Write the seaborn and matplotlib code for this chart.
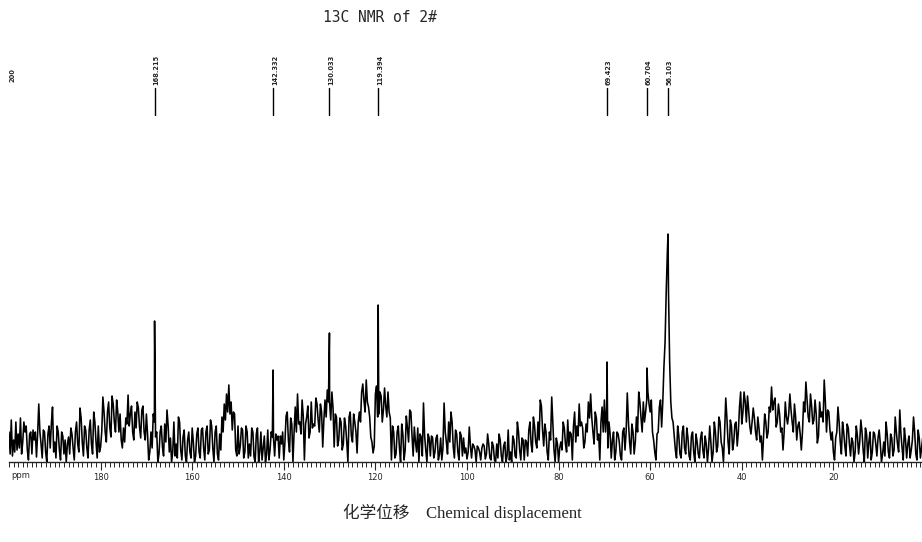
import numpy as np
import pandas as pd
import matplotlib
matplotlib.use("Agg")
import matplotlib.pyplot as plt
from matplotlib.ticker import MultipleLocator, FixedLocator
import seaborn as sns

# baseline trace, 0.5 ppm steps from 200 ppm downwards
# (values are heights above the axis, in plot pixels)
base_200_190 = [30, 42, 22, 40, 28, 44, 20, 30, 12, 28, 8, 22, 5, 58, 18, 32, 10, 28, 14, 55]
base_190_180 = [20, 36, 12, 30, 8, 0, 25, 34, 14, 30, 18, 54, 20, 36, 14, 32, 18, 50, 20, 36]
base_180_170 = [15, 65, 30, 50, 35, 66, 40, 62, 30, 22, 34, 44, 67, 48, 30, 50, 60, 35, 52, 30]
base_170_160 = [48, 2, 30, 48, 25, 0, 30, 15, 38, 52, 10, 0, 40, 18, 45, 12, 25, 6, 22, 10]
base_160_150 = [34, 0, 28, 10, 32, 14, 30, 8, 42, 14, 30, 8, 28, 45, 58, 68, 77, 60, 50, 12]
base_150_140 = [36, 16, 32, 10, 30, 18, 34, 5, 28, 0, 30, 14, 0, 32, 12, 25, 6, 22, 4, 18]
base_140_130 = [2, 46, 22, 44, 0, 55, 68, 40, 62, 2, 45, 24, 60, 38, 64, 42, 58, 15, 62, 72]
base_130_120 = [60, 70, 15, 45, 22, 40, 18, 36, 0, 50, 20, 40, 9, 50, 70, 62, 82, 55, 25, 9]
base_120_110 = [68, 45, 70, 40, 74, 45, 50, 2, 30, 8, 36, 0, 28, 12, 34, 52, 26, 35, 10, 0]
base_110_100 = [25, 59, 12, 28, 6, 24, 10, 27, 8, 2, 59, 20, 40, 50, 15, 32, 10, 30, 6, 9]
base_100_90 = [3, 35, 4, 16, 0, 14, 2, 18, 3, 28, 4, 20, 2, 18, 28, 6, 16, 0, 32, 10]
base_90_80 = [26, 6, 40, 12, 24, 2, 20, 32, 18, 45, 20, 40, 62, 32, 38, 10, 30, 65, 12, 24]
base_80_70 = [0, 20, 40, 18, 42, 30, 2, 50, 36, 58, 40, 14, 38, 60, 68, 30, 50, 22, 2, 55]
base_70_60 = [62, 55, 40, 4, 30, 10, 28, 6, 30, 12, 69, 20, 38, 8, 45, 70, 44, 60, 50, 70]
base_60_50 = [50, 30, 10, 28, 55, 35, 95, 170, 170, 60, 40, 12, 36, 8, 30, 14, 34, 6, 26, 10]
base_50_40 = [28, 8, 24, 12, 26, 0, 36, 0, 40, 10, 45, 20, 0, 64, 20, 42, 12, 38, 16, 55]
base_40_30 = [38, 70, 40, 52, 28, 54, 30, 45, 20, 2, 48, 24, 55, 75, 60, 35, 58, 30, 12, 60]
base_30_20 = [38, 68, 40, 58, 22, 40, 12, 60, 80, 45, 68, 38, 62, 19, 60, 50, 82, 30, 50, 22]
base_20_10 = [10, 24, 55, 20, 40, 16, 38, 18, 24, 0, 36, 8, 42, 12, 34, 4, 30, 10, 28, 6]
base_10_0 = [32, 0, 20, 40, 10, 28, 6, 45, 18, 52, 14, 34, 4, 26, 12, 45, 8, 32, 4, 24]

# in-between readings, 0.25 ppm below each of the values above
mid_200_190 = [8, 6, 10, 12, 14, 8, 40, 36, 2, 30, 32, 30, 28, 30, 4, 30, 0, 36, 38, 10]
mid_190_180 = [4, 30, 2, 26, 22, 18, 8, 28, 2, 40, 10, 44, 6, 32, 4, 42, 8, 40, 4, 10]
mid_180_170 = [30, 50, 20, 60, 25, 58, 30, 50, 48, 14, 20, 38, 36, 56, 22, 34, 54, 24, 56, 22]
mid_170_160 = [28, 10, 14, 40, 30, 8, 36, 6, 20, 36, 24, 10, 6, 4, 40, 2, 32, 0, 30, 4]
mid_160_150 = [20, 6, 34, 4, 34, 2, 36, 12, 36, 0, 36, 2, 12, 30, 42, 50, 48, 32, 48, 6]
mid_150_140 = [8, 34, 4, 36, 4, 6, 30, 0, 34, 10, 2, 26, 8, 2, 30, 24, 28, 26, 26, 30]
mid_140_130 = [20, 50, 10, 38, 30, 30, 38, 28, 46, 38, 56, 30, 34, 36, 58, 30, 50, 42, 45, 60]
mid_130_120 = [42, 54, 48, 16, 44, 12, 44, 20, 45, 26, 48, 30, 40, 40, 78, 50, 60, 45, 20, 16]
mid_120_110 = [76, 48, 66, 52, 56, 70, 44, 36, 4, 30, 14, 38, 2, 46, 20, 50, 6, 20, 34, 28]
mid_110_100 = [6, 26, 0, 24, 26, 4, 24, 2, 24, 14, 30, 8, 20, 40, 4, 28, 2, 26, 24, 14]
mid_100_90 = [10, 16, 18, 12, 16, 10, 14, 16, 8, 18, 2, 16, 0, 4, 22, 0, 20, 6, 2, 0]
mid_90_80 = [22, 4, 30, 2, 22, 22, 6, 40, 10, 36, 14, 22, 56, 16, 30, 2, 22, 38, 0, 18]
mid_80_70 = [14, 12, 34, 10, 16, 28, 36, 20, 26, 36, 34, 20, 30, 44, 44, 18, 44, 28, 40, 30]
mid_70_60 = [30, 14, 28, 22, 2, 30, 20, 2, 34, 30, 40, 8, 30, 20, 30, 60, 30, 40, 62, 58]
mid_60_50 = [62, 22, 2, 30, 62, 60, 120, 210, 100, 44, 26, 4, 26, 4, 36, 8, 24, 2, 30, 0]
mid_50_40 = [20, 4, 30, 4, 18, 14, 20, 10, 30, 16, 40, 14, 30, 44, 8, 36, 20, 40, 30, 70]
mid_40_30 = [50, 60, 66, 36, 40, 44, 22, 34, 26, 24, 40, 30, 50, 52, 64, 40, 48, 34, 30, 45]
mid_30_20 = [48, 52, 30, 45, 36, 28, 30, 50, 62, 40, 56, 42, 48, 26, 45, 40, 60, 52, 32, 30]
mid_20_10 = [2, 30, 40, 8, 30, 6, 34, 6, 20, 10, 26, 20, 30, 0, 28, 20, 2, 30, 18, 24]
mid_10_0 = [18, 8, 6, 28, 4, 24, 12, 30, 10, 28, 2, 22, 18, 4, 22, 30, 2, 24, 14, 6]

# labelled peaks
peak_ppm = [168.215, 142.332, 130.033, 119.394, 69.423, 60.704, 56.103]
peak_height = [141, 92, 129, 157, 100, 94, 228]

tick_values = [180, 160, 140, 120, 100, 80, 60, 40, 20]

baseline = (base_200_190 + base_190_180 + base_180_170 + base_170_160 + base_160_150
            + base_150_140 + base_140_130 + base_130_120 + base_120_110 + base_110_100
            + base_100_90 + base_90_80 + base_80_70 + base_70_60 + base_60_50
            + base_50_40 + base_40_30 + base_30_20 + base_20_10 + base_10_0)
midline = (mid_200_190 + mid_190_180 + mid_180_170 + mid_170_160 + mid_160_150
           + mid_150_140 + mid_140_130 + mid_130_120 + mid_120_110 + mid_110_100
           + mid_100_90 + mid_90_80 + mid_80_70 + mid_70_60 + mid_60_50
           + mid_50_40 + mid_40_30 + mid_30_20 + mid_20_10 + mid_10_0)
grid = 200 - 0.5 * np.arange(len(baseline))
mid_grid = grid - 0.25

df = pd.DataFrame({
    "ppm": np.concatenate([grid, mid_grid, peak_ppm]),
    "intensity": np.concatenate([baseline, midline, peak_height]).astype(float),
}).sort_values("ppm")

sns.set_style("white")
plt.rcParams["font.family"] = ["DejaVu Sans"]

fig = plt.figure(figsize=(9.22, 5.42), dpi=100)
ax = fig.add_axes([9 / 922, 80 / 542, 913 / 922, 462 / 542])

sns.lineplot(data=df, x="ppm", y="intensity", ax=ax, color="black",
             linewidth=1.15, estimator=None, sort=True)

ax.set_xlim(200, 0.65)
ax.set_ylim(0, 462)

# peak markers and labels at the top
for p in peak_ppm:
    ax.plot([p, p], [347, 374], color="black", linewidth=1.0)
    ax.text(p - 0.4, 377, f"{p:.3f}", rotation=90, ha="center", va="bottom",
            fontsize=4.8, fontweight="bold")
ax.text(199.2, 380, "200", rotation=90, ha="center", va="bottom",
        fontsize=4.8, fontweight="bold")

for side in ["top", "left", "right"]:
    ax.spines[side].set_visible(False)
ax.spines["bottom"].set_linewidth(1.0)
ax.set_yticks([])
ax.xaxis.set_major_locator(FixedLocator(tick_values))
ax.xaxis.set_minor_locator(MultipleLocator(1))
ax.set_xticklabels([str(v) for v in tick_values])
ax.tick_params(axis="x", which="major", direction="out", length=6, width=0.8,
               labelsize=6, pad=2, bottom=True)
ax.tick_params(axis="x", which="minor", direction="out", length=3.5, width=0.7, bottom=True)
ax.set_xlabel("")
ax.set_ylabel("")
ax.text(199.5, -13, "ppm", ha="left", va="center", fontsize=6)

fig.text(380 / 922, 1 - 17 / 542, "13C NMR of 2#", family="DejaVu Sans Mono",
         fontsize=10.5, ha="center", va="center")
fig.text(462 / 922, 1 - 513 / 542, "化学位移\u3000Chemical displacement",
         family=["Liberation Serif", "Noto Sans CJK SC"], fontsize=12,
         ha="center", va="center")

fig.savefig("out.png", dpi=100)
